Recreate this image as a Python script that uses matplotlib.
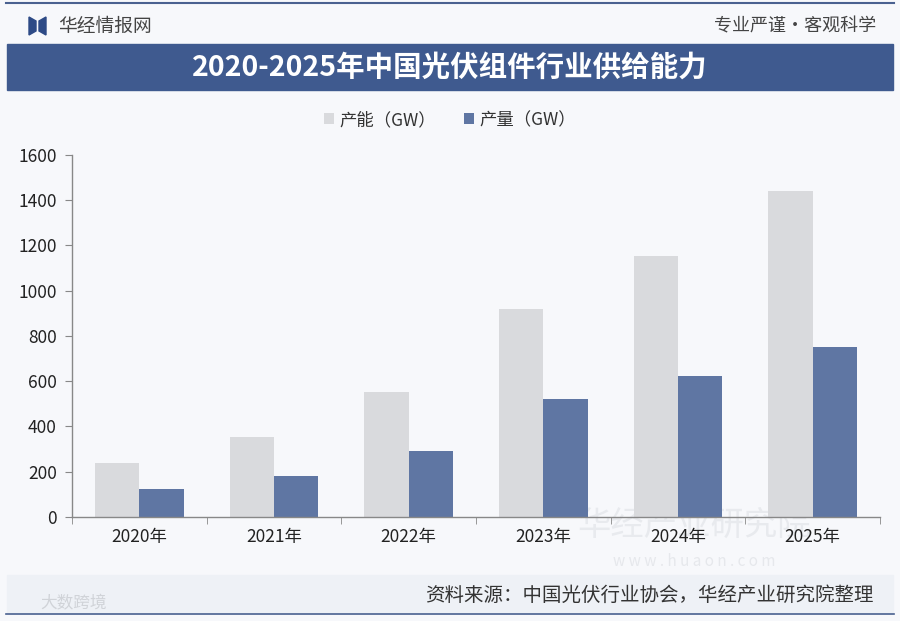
import matplotlib
matplotlib.use("Agg")
import matplotlib.pyplot as plt
from matplotlib.patches import Rectangle, Polygon
from matplotlib.lines import Line2D
import numpy as np

plt.rcParams['font.family'] = ['Noto Sans CJK SC', 'DejaVu Sans']

years = ["2020年", "2021年", "2022年", "2023年", "2024年", "2025年"]
capacity = [240, 355, 550, 920, 1152, 1441]
output = [125, 182, 292, 519, 621, 750]
series_names = ["产能（GW）", "产量（GW）"]
yticks = [0, 200, 400, 600, 800, 1000, 1200, 1400, 1600]
title = "2020-2025年中国光伏组件行业供给能力"
source = "资料来源：中国光伏行业协会，华经产业研究院整理"

W, H = 900, 621
fig = plt.figure(figsize=(9, 6.21), dpi=100)
bg = "#f7f8fb"
fig.patch.set_facecolor(bg)

def fx(px):
    return px / W

def fy(py):
    return 1 - py / H

# top and bottom border lines
fig.add_artist(Line2D([fx(6), fx(894)], [fy(3), fy(3)], color="#4a6190", lw=1.5))
fig.add_artist(Line2D([fx(6), fx(894)], [fy(614), fy(614)], color="#4a6190", lw=1.2))

# logo
fig.add_artist(Polygon([[fx(29), fy(17)], [fx(36), fy(21)], [fx(36), fy(31)], [fx(29), fy(35)]],
                       closed=True, color="#2d4a86"))
fig.add_artist(Polygon([[fx(46), fy(17)], [fx(39), fy(21)], [fx(39), fy(31)], [fx(46), fy(35)]],
                       closed=True, color="#2d4a86"))
fig.text(fx(58), fy(26), "华经情报网", fontsize=13.5, color="#444444", va="center", ha="left")
fig.text(fx(876), fy(26), "专业严谨•客观科学", fontsize=13, color="#444444", va="center", ha="right")

# title banner
fig.add_artist(Rectangle((fx(7), fy(90)), fx(886), 46 / H, color="#3f5a8f"))
fig.text(0.5, fy(68), title, fontsize=20.5, fontweight="bold", color="white", ha="center", va="center")

# source band
fig.add_artist(Rectangle((fx(7), fy(613)), fx(886), 38 / H, color="#eef1f6"))
fig.text(fx(874), fy(595), source, fontsize=14, color="#333333", ha="right", va="center")
fig.text(fx(40), fy(604), "大数跨境", fontsize=12, color="#d0d3d8", ha="left", va="center")

# axes
ax = fig.add_axes([fx(72), fy(517), fx(880) - fx(72), (517 - 154.7) / H])
ax.set_facecolor("none")

x = np.arange(len(years))
w = 0.33
ax.bar(x - w / 2, capacity, w, color="#d9dadd", label=series_names[0], zorder=2)
ax.bar(x + w / 2, output, w, color="#5f76a3", label=series_names[1], zorder=2)

# watermark
ax.text(0.77, 0.025, "华经产业研究院", transform=ax.transAxes, fontsize=24, color="#e8eaee",
        ha="center", va="top", zorder=0, clip_on=False)
ax.text(0.77, -0.1, "w w w . h u a o n . c o m", transform=ax.transAxes, fontsize=11,
        color="#e6e8ec", ha="center", va="top", zorder=0, clip_on=False)

ax.set_xlim(-0.5, len(years) - 0.5)
ax.set_ylim(0, 1600)
ax.set_yticks(yticks)
ax.set_yticklabels([str(v) for v in yticks], fontsize=12.5, color="#222222")
ax.set_xticks(x)
ax.set_xticklabels(years, fontsize=12.5, color="#222222")
ax.set_xticks(np.arange(-0.5, len(years)), minor=True)
ax.tick_params(axis="x", which="major", length=0, pad=8)
ax.tick_params(axis="x", which="minor", length=5, color="#888888", direction="out")
ax.tick_params(axis="y", length=5, color="#888888", direction="out", pad=6)
for s in ["top", "right"]:
    ax.spines[s].set_visible(False)
for s in ["left", "bottom"]:
    ax.spines[s].set_color("#888888")
    ax.spines[s].set_linewidth(1)

leg = fig.legend(loc="center", bbox_to_anchor=(0.5, fy(120)), ncol=2, frameon=False,
                 fontsize=12.5, handlelength=0.6, handleheight=0.6, handletextpad=0.3,
                 columnspacing=1.6)
for t in leg.get_texts():
    t.set_color("#333333")

fig.savefig("out.png", dpi=100, facecolor=bg)
